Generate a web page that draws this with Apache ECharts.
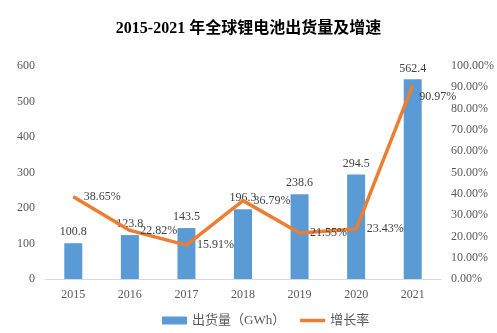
<!DOCTYPE html>
<html><head><meta charset="utf-8">
<script src="https://cdn.jsdelivr.net/npm/echarts@6/dist/echarts.min.js"></script>
<style>html,body{margin:0;padding:0;background:#fff}#c{width:497px;height:333px}</style>
</head><body><div id="c"></div>
<script>
const years = ['2015','2016','2017','2018','2019','2020','2021'];
const shipments = [100.8, 123.8, 143.5, 196.3, 238.6, 294.5, 562.4];
const growth = [38.65, 22.82, 15.91, 36.79, 21.55, 23.43, 90.97];
const serif = '"Liberation Serif","Noto Sans CJK SC",serif';
const chart = echarts.init(document.getElementById('c'));
chart.setOption({
  animation: false,
  title: {
    text: '2015-2021 年全球锂电池出货量及增速',
    left: 'center', top: 16,
    textStyle: {fontFamily: serif, fontWeight: 'bold', fontSize: 16, color: '#000'}
  },
  legend: {
    bottom: 1, left: 157, itemGap: 15, itemWidth: 25, itemHeight: 8,
    textStyle: {fontFamily: serif, fontSize: 13, color: '#595959'},
    data: [{name: '出货量（GWh）', icon: 'rect'},
           {name: '增长率', icon: 'path://M0 0H25V3.5H0Z', itemStyle: {color: '#ED7D31'}}]
  },
  grid: {left: 45, right: 55, top: 66, bottom: 54},
  xAxis: {
    type: 'category', data: years,
    axisLine: {lineStyle: {color: '#D9D9D9'}},
    axisTick: {show: false},
    axisLabel: {fontFamily: serif, fontSize: 12, color: '#595959', margin: 10}
  },
  yAxis: [{
    type: 'value', min: 0, max: 600, interval: 100,
    splitLine: {show: false},
    axisLabel: {fontFamily: serif, fontSize: 12, color: '#595959', margin: 10}
  }, {
    type: 'value', min: 0, max: 100, interval: 10,
    splitLine: {show: false},
    axisLabel: {fontFamily: serif, fontSize: 12, color: '#595959', margin: 10,
      formatter: v => v.toFixed(2) + '%'}
  }],
  series: [{
    name: '出货量（GWh）', type: 'bar', data: shipments, barWidth: 18,
    itemStyle: {color: '#5B9BD5'},
    label: {show: true, position: 'top', distance: 5, fontFamily: serif, fontSize: 12, color: '#404040'}
  }, {
    name: '增长率', type: 'line', yAxisIndex: 1, data: growth.map((v, i) => i === 6 ?
      {value: v, label: {offset: [-4, 12]}} : v),
    showSymbol: true, symbol: 'circle', symbolSize: 1,
    lineStyle: {color: '#ED7D31', width: 3.5},
    itemStyle: {color: '#ED7D31'},
    label: {show: true, position: 'right', distance: 10, fontFamily: serif, fontSize: 12, color: '#404040',
      formatter: p => p.value.toFixed(2) + '%'}
  }]
});
</script></body></html>
